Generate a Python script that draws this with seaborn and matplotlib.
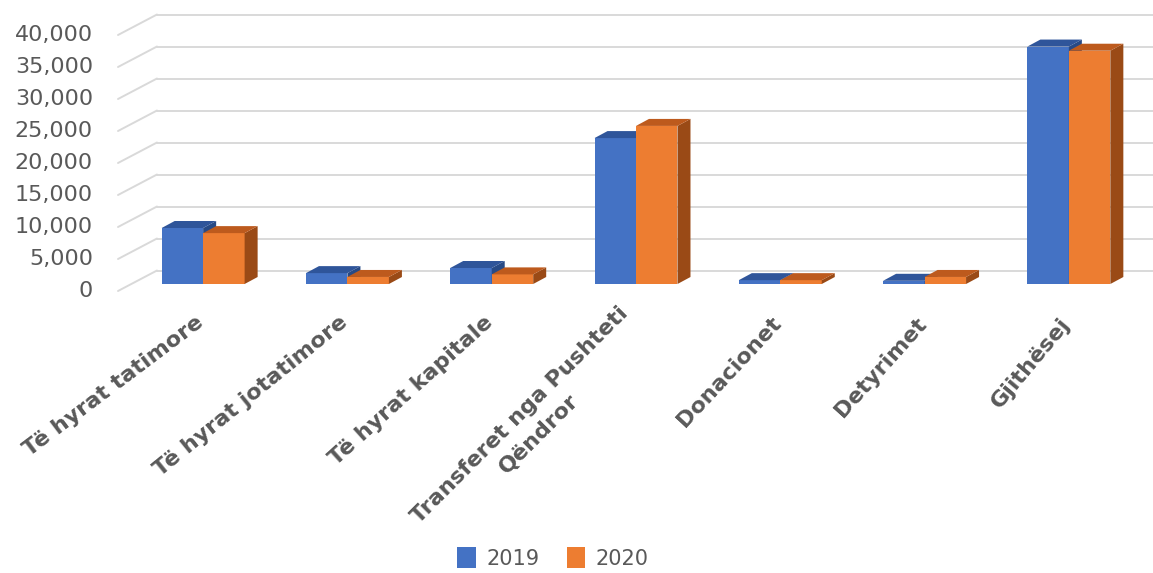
import numpy as np
import pandas as pd
import matplotlib
matplotlib.use("Agg")
import matplotlib.pyplot as plt
import seaborn as sns
from matplotlib.patches import Polygon, Patch
from matplotlib.lines import Line2D
from matplotlib.transforms import IdentityTransform
from matplotlib.colors import to_rgb

# ---------------- data ----------------
categories = ["Të hyrat tatimore", "Të hyrat jotatimore", "Të hyrat kapitale",
              "Transferet nga Pushteti\nQëndror", "Donacionet", "Detyrimet", "Gjithësej"]
years = ["2019", "2020"]
values_2019 = [8750, 1700, 2500, 22800, 600, 500, 37100]
values_2020 = [7950, 1100, 1500, 24700, 600, 1100, 36450]
y_ticks = [0, 5000, 10000, 15000, 20000, 25000, 30000, 35000, 40000]

# ---------------- style ----------------
label_angles = [37, 39, 42, 45, 47, 48, 50]
front_colors = {"2019": "#4472C4", "2020": "#ED7D31"}
top_colors = {"2019": "#2F559A", "2020": "#BD5A1D"}
side_colors = {"2019": "#274A86", "2020": "#9A4A16"}
grid_color = "#D9D9D9"
text_color = "#595959"

sns.set_theme(style="white")
plt.rcParams['font.family'] = ['DejaVu Sans']

W, H = 1153, 573
fig = plt.figure(figsize=(W / 100, H / 100), dpi=100)
ax = fig.add_axes([131 / W, (H - 284) / H, 1010 / W, 256 / H])

df = pd.DataFrame({
    "Kategoria": categories * 2,
    "Viti": [years[0]] * len(categories) + [years[1]] * len(categories),
    "Vlera": values_2019 + values_2020,
})
sns.barplot(data=df, x="Kategoria", y="Vlera", hue="Viti", hue_order=years,
            palette=front_colors, width=0.575, saturation=1, legend=False,
            errorbar=None, linewidth=0, ax=ax)

ax.set_ylim(0, 40000)
ax.set_xlim(-0.5, len(categories) - 0.5)
for s in ax.spines.values():
    s.set_visible(False)
ax.set_xlabel("")
ax.set_ylabel("")
ax.set_xticks([])
ax.set_yticks([])
ax.patch.set_alpha(0)

# depth offsets in pixels (y up)
BAR_DX, BAR_DY = 13, 7
BACK_DX, BACK_DY = 26, 13.5
FRONT_DX, FRONT_DY = -13, -7
ident = IdentityTransform()

x_left = ax.transAxes.transform((0, 0))[0]

# back-wall grid lines + floor diagonals
for v in y_ticks:
    yd = ax.transData.transform((0, v))[1]
    ax.add_line(Line2D([x_left + BACK_DX, W + 20], [yd + BACK_DY, yd + BACK_DY],
                       transform=ident, color=grid_color, lw=1.4, zorder=0.5, clip_on=False))
    ax.add_line(Line2D([x_left + FRONT_DX, x_left + BACK_DX], [yd + FRONT_DY, yd + BACK_DY],
                       transform=ident, color=grid_color, lw=1.4, zorder=0.5, clip_on=False))
    ax.text(x_left - 38, yd - 7, f"{v:,}", transform=ident, ha="right", va="center",
            fontsize=16, color=text_color)

# 3D faces for each bar
for p in list(ax.patches):
    fc = p.get_facecolor()[:3]
    yr = "2019" if np.allclose(fc, to_rgb(front_colors["2019"]), atol=0.02) else "2020"
    z = 2 if yr == "2019" else 3
    p.set_zorder(z)
    x0, y0 = p.get_x(), p.get_y()
    x1, y1 = x0 + p.get_width(), y0 + p.get_height()
    (dx0, dy0) = ax.transData.transform((x0, y0))
    (dx1, dy1) = ax.transData.transform((x1, y1))
    side = Polygon([(dx1, dy0), (dx1, dy1), (dx1 + BAR_DX, dy1 + BAR_DY), (dx1 + BAR_DX, dy0 + BAR_DY)],
                   closed=True, transform=ident, facecolor=side_colors[yr], edgecolor="none",
                   zorder=z + 0.1, clip_on=False)
    top = Polygon([(dx0, dy1), (dx1, dy1), (dx1 + BAR_DX, dy1 + BAR_DY), (dx0 + BAR_DX, dy1 + BAR_DY)],
                  closed=True, transform=ident, facecolor=top_colors[yr], edgecolor="none",
                  zorder=z + 0.1, clip_on=False)
    ax.add_patch(side)
    ax.add_patch(top)

ax.set_ylim(0, 40000)
ax.set_xlim(-0.5, len(categories) - 0.5)

# category labels
y_base = ax.transData.transform((0, 0))[1]
for i, (cat, ang) in enumerate(zip(categories, label_angles)):
    xc = ax.transData.transform((i, 0))[0]
    ax.text(xc - 2, y_base - 36, cat, transform=ident, rotation=ang, rotation_mode="anchor",
            ha="right", va="center", multialignment="center", fontsize=16, linespacing=1.45,
            fontweight="bold", color=text_color)

# legend
handles = [Patch(facecolor=front_colors[y], edgecolor="none") for y in years]
fig.legend(handles, years, loc="center", bbox_to_anchor=(553 / W, 15 / H), ncol=2,
           frameon=False, fontsize=15, handlelength=0.9, handleheight=1.15,
           handletextpad=0.5, columnspacing=1.3, labelcolor=text_color,
           borderpad=0.2)

fig.savefig("out.png", dpi=100, facecolor="white")
